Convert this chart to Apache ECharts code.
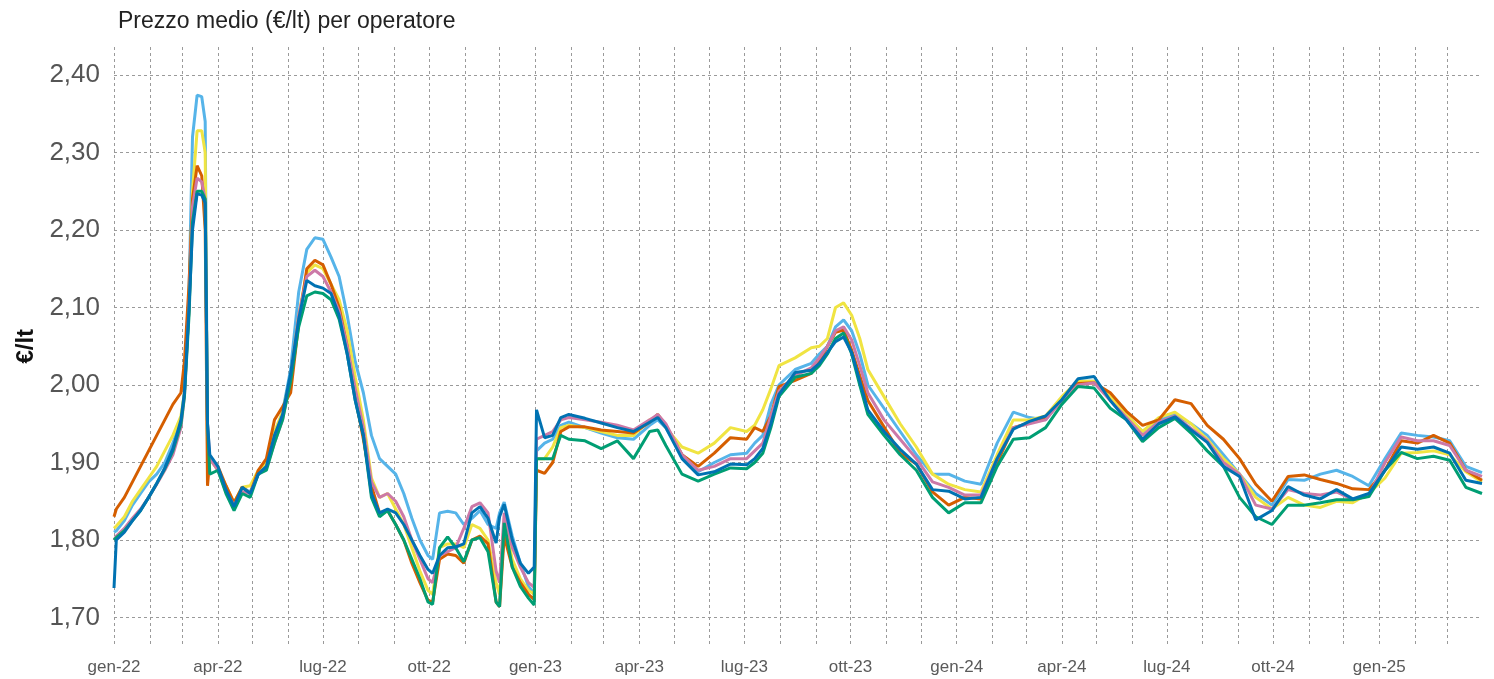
<!DOCTYPE html>
<html>
<head>
<meta charset="utf-8">
<script src="https://cdn.jsdelivr.net/npm/echarts@6/dist/echarts.min.js"></script>
<style>
html,body{margin:0;padding:0;background:#fff;}
#chart{width:1494px;height:679px;}
</style>
</head>
<body>
<div id="chart"></div>
<script>
const titleText = 'Prezzo medio (€/lt) per operatore';
const yAxisName = '€/lt';
const monthNames = ['gen','feb','mar','apr','mag','giu','lug','ago','set','ott','nov','dic'];
const yTicks = [1.70, 1.80, 1.90, 2.00, 2.10, 2.20, 2.30, 2.40];

const dates = [
'2022-01-01','2022-01-03','2022-01-10','2022-01-17','2022-01-24','2022-01-31','2022-02-07','2022-02-14','2022-02-21','2022-02-28',
'2022-03-03','2022-03-07','2022-03-10','2022-03-14','2022-03-18','2022-03-21','2022-03-23','2022-03-25','2022-04-01','2022-04-08',
'2022-04-15','2022-04-22','2022-04-29','2022-05-06','2022-05-13','2022-05-20','2022-05-27','2022-06-03','2022-06-10','2022-06-17',
'2022-06-24','2022-07-01','2022-07-08','2022-07-15','2022-07-22','2022-07-29','2022-08-05','2022-08-12','2022-08-19','2022-08-26',
'2022-09-02','2022-09-09','2022-09-16','2022-09-23','2022-09-30','2022-10-04','2022-10-10','2022-10-17','2022-10-24','2022-10-31',
'2022-11-07','2022-11-14','2022-11-21','2022-11-28','2022-12-01','2022-12-05','2022-12-12','2022-12-19','2022-12-26','2022-12-31',
'2023-01-02','2023-01-09','2023-01-16','2023-01-23','2023-01-30','2023-02-13','2023-02-27','2023-03-13','2023-03-27','2023-04-10',
'2023-04-17','2023-04-24','2023-05-08','2023-05-22','2023-06-05','2023-06-19','2023-07-03','2023-07-10','2023-07-17','2023-07-24',
'2023-07-31','2023-08-14','2023-08-28','2023-09-04','2023-09-11','2023-09-18','2023-09-25','2023-10-02','2023-10-09','2023-10-16',
'2023-10-30','2023-11-13','2023-11-27','2023-12-11','2023-12-25','2024-01-08','2024-01-22','2024-02-05','2024-02-19','2024-03-04',
'2024-03-18','2024-04-01','2024-04-15','2024-04-29','2024-05-13','2024-05-27','2024-06-10','2024-06-24','2024-07-08','2024-07-22',
'2024-08-05','2024-08-19','2024-09-02','2024-09-16','2024-09-30','2024-10-14','2024-10-28','2024-11-11','2024-11-25','2024-12-09',
'2024-12-23','2025-01-06','2025-01-20','2025-02-03','2025-02-17','2025-03-03','2025-03-17','2025-03-31'
];

const lightBlue = [
1.81,1.812,1.825,1.845,1.86,1.875,1.885,1.90,1.925,1.955,
1.99,2.12,2.32,2.374,2.372,2.34,1.93,1.905,1.89,1.865,
1.845,1.868,1.862,1.885,1.895,1.935,1.965,2.02,2.12,2.175,
2.19,2.188,2.165,2.14,2.09,2.03,1.99,1.935,1.905,1.895,
1.885,1.86,1.828,1.80,1.78,1.775,1.835,1.837,1.835,1.82,
1.828,1.838,1.82,1.815,1.835,1.849,1.805,1.77,1.74,1.731,
1.915,1.925,1.93,1.948,1.952,1.945,1.938,1.932,1.93,1.948,
1.955,1.945,1.91,1.888,1.90,1.91,1.912,1.925,1.935,1.975,
2.0,2.02,2.028,2.04,2.05,2.075,2.084,2.07,2.04,2.0,
1.97,1.94,1.91,1.885,1.885,1.876,1.872,1.925,1.965,1.958,
1.955,1.982,2.005,2.005,1.985,1.96,1.94,1.955,1.962,1.95,
1.935,1.91,1.885,1.86,1.845,1.878,1.877,1.885,1.89,1.882,
1.87,1.905,1.938,1.935,1.933,1.928,1.895,1.887
];

const yellow = [
1.815,1.818,1.83,1.85,1.865,1.88,1.895,1.915,1.935,1.96,
1.99,2.10,2.25,2.328,2.328,2.30,1.92,1.905,1.89,1.87,
1.848,1.868,1.87,1.89,1.90,1.94,1.965,2.01,2.09,2.145,
2.155,2.15,2.13,2.11,2.07,2.01,1.955,1.88,1.855,1.86,
1.84,1.82,1.79,1.76,1.735,1.73,1.79,1.795,1.795,1.79,
1.82,1.815,1.80,1.745,1.73,1.825,1.775,1.75,1.735,1.73,
1.905,1.905,1.92,1.945,1.948,1.945,1.94,1.935,1.935,1.955,
1.96,1.945,1.92,1.912,1.925,1.945,1.94,1.948,1.968,1.995,
2.025,2.035,2.048,2.05,2.06,2.10,2.106,2.09,2.06,2.02,
1.985,1.95,1.92,1.885,1.872,1.865,1.862,1.91,1.955,1.955,
1.96,1.985,2.005,2.005,1.985,1.962,1.94,1.958,1.965,1.95,
1.93,1.905,1.885,1.855,1.84,1.855,1.845,1.842,1.85,1.848,
1.86,1.88,1.912,1.913,1.915,1.91,1.888,1.875
];

const orange = [
1.83,1.84,1.855,1.875,1.895,1.915,1.935,1.955,1.975,1.99,
2.03,2.13,2.24,2.283,2.27,2.20,1.87,1.905,1.895,1.87,
1.848,1.868,1.86,1.89,1.905,1.955,1.972,1.99,2.08,2.15,
2.161,2.155,2.13,2.10,2.05,1.985,1.93,1.87,1.835,1.838,
1.82,1.80,1.77,1.745,1.722,1.72,1.775,1.782,1.78,1.77,
1.80,1.805,1.795,1.72,1.714,1.805,1.765,1.745,1.73,1.723,
1.89,1.886,1.90,1.94,1.946,1.946,1.942,1.94,1.938,1.952,
1.962,1.948,1.91,1.895,1.912,1.932,1.93,1.945,1.94,1.96,
1.998,2.006,2.015,2.03,2.05,2.068,2.071,2.045,2.012,1.98,
1.946,1.912,1.898,1.862,1.845,1.855,1.853,1.90,1.945,1.951,
1.958,1.98,2.002,2.003,1.99,1.966,1.948,1.955,1.981,1.976,
1.948,1.93,1.905,1.872,1.85,1.882,1.884,1.878,1.873,1.866,
1.865,1.89,1.928,1.925,1.935,1.925,1.89,1.877
];

const pink = [
1.80,1.805,1.815,1.828,1.84,1.855,1.872,1.89,1.91,1.945,
1.985,2.10,2.23,2.267,2.262,2.24,1.95,1.905,1.89,1.862,
1.845,1.862,1.86,1.885,1.893,1.925,1.955,2.01,2.09,2.14,
2.148,2.14,2.12,2.095,2.05,1.995,1.945,1.875,1.855,1.86,
1.85,1.83,1.80,1.775,1.75,1.745,1.78,1.785,1.79,1.815,
1.843,1.848,1.835,1.76,1.745,1.835,1.79,1.765,1.745,1.739,
1.93,1.935,1.94,1.955,1.958,1.955,1.952,1.948,1.942,1.955,
1.962,1.95,1.91,1.89,1.895,1.905,1.905,1.915,1.925,1.96,
1.992,2.012,2.022,2.035,2.05,2.07,2.075,2.058,2.025,1.99,
1.955,1.93,1.905,1.875,1.868,1.858,1.858,1.905,1.945,1.95,
1.955,1.98,2.0,2.003,1.98,1.958,1.935,1.952,1.96,1.944,
1.928,1.9,1.885,1.845,1.84,1.865,1.86,1.858,1.862,1.852,
1.857,1.9,1.933,1.928,1.928,1.922,1.89,1.882
];

const green = [
1.80,1.803,1.812,1.825,1.838,1.855,1.873,1.892,1.915,1.95,
1.985,2.09,2.21,2.25,2.25,2.24,1.95,1.885,1.89,1.86,
1.838,1.86,1.855,1.885,1.89,1.925,1.955,2.005,2.075,2.115,
2.12,2.118,2.11,2.085,2.04,1.98,1.935,1.855,1.83,1.838,
1.82,1.80,1.775,1.75,1.72,1.717,1.79,1.804,1.79,1.772,
1.80,1.803,1.785,1.72,1.714,1.822,1.765,1.74,1.725,1.716,
1.905,1.905,1.905,1.935,1.93,1.928,1.918,1.928,1.905,1.94,
1.942,1.922,1.885,1.876,1.885,1.893,1.892,1.90,1.912,1.945,
1.985,2.01,2.015,2.025,2.04,2.06,2.067,2.04,2.0,1.962,
1.935,1.91,1.89,1.855,1.835,1.848,1.848,1.895,1.93,1.932,
1.945,1.975,1.998,1.996,1.97,1.955,1.927,1.945,1.957,1.938,
1.915,1.895,1.855,1.83,1.82,1.845,1.845,1.848,1.852,1.852,
1.856,1.89,1.913,1.905,1.908,1.903,1.868,1.86
];

const blue = [
1.738,1.80,1.81,1.825,1.838,1.855,1.873,1.893,1.918,1.955,
1.99,2.10,2.20,2.247,2.245,2.235,1.95,1.91,1.895,1.865,
1.843,1.868,1.86,1.885,1.895,1.935,1.962,2.015,2.085,2.135,
2.128,2.125,2.118,2.09,2.04,1.98,1.935,1.86,1.835,1.84,
1.835,1.82,1.80,1.78,1.762,1.757,1.78,1.79,1.791,1.795,
1.835,1.843,1.828,1.796,1.83,1.846,1.80,1.77,1.757,1.765,
1.968,1.932,1.935,1.958,1.962,1.957,1.951,1.945,1.94,1.952,
1.958,1.945,1.905,1.884,1.888,1.898,1.897,1.905,1.918,1.95,
1.988,2.016,2.019,2.028,2.042,2.056,2.062,2.042,2.005,1.968,
1.94,1.917,1.898,1.865,1.863,1.853,1.855,1.905,1.943,1.953,
1.96,1.981,2.008,2.011,1.98,1.955,1.93,1.95,1.959,1.942,
1.926,1.895,1.882,1.826,1.838,1.869,1.858,1.853,1.865,1.853,
1.86,1.89,1.92,1.917,1.92,1.912,1.877,1.873
];

const seriesList = [
  {name: 'Operatore A', values: lightBlue, color: '#56B4E9'},
  {name: 'Operatore B', values: yellow, color: '#F0E442'},
  {name: 'Operatore C', values: orange, color: '#D55E00'},
  {name: 'Operatore D', values: pink, color: '#CC79A7'},
  {name: 'Operatore E', values: green, color: '#009E73'},
  {name: 'Operatore F', values: blue, color: '#0072B2'}
];

const xMin = '2022-01-01';
const xMax = '2025-03-31';
const DAY = 86400000;
const gridColor = '#9a9a9a';
const FONT = '"Liberation Sans", Arial, sans-serif';

const chart = echarts.init(document.getElementById('chart'), null, {renderer: 'canvas'});

const option = {
  backgroundColor: '#ffffff',
  animation: false,
  title: {
    text: titleText,
    left: 113, top: 5,
    textStyle: {fontFamily: FONT, fontSize: 23, fontWeight: 'normal', color: '#222'}
  },
  grid: [
    {left: 114, right: 12, top: 75, bottom: 61.5, containLabel: false},
    {left: 114, right: 12, top: 47, bottom: 34, containLabel: false}
  ],
  xAxis: [
    {
      type: 'time', gridIndex: 0, min: xMin, max: xMax,
      minInterval: 28 * DAY, maxInterval: 31 * DAY,
      axisLine: {show: false}, axisTick: {show: false}, splitLine: {show: false},
      axisLabel: {
        margin: 41, fontFamily: FONT, fontSize: 17, color: '#5a5a5a',
        showMinLabel: true, showMaxLabel: false, hideOverlap: false,
        formatter: function (val) {
          const d = new Date(val);
          if (d.getDate() !== 1 || d.getMonth() % 3 !== 0) return '';
          return monthNames[d.getMonth()] + '-' + String(d.getFullYear()).slice(2);
        }
      }
    },
    {
      type: 'time', gridIndex: 1, min: xMin, max: xMax,
      minInterval: 28 * DAY, maxInterval: 31 * DAY,
      axisLine: {show: false}, axisTick: {show: false}, axisLabel: {show: false},
      splitLine: {show: true, showMaxLine: false, lineStyle: {color: gridColor, width: 1, type: [3, 3]}}
    }
  ],
  yAxis: [
    {
      type: 'value', gridIndex: 0, min: yTicks[0], max: yTicks[yTicks.length - 1], interval: 0.1,
      name: yAxisName, nameLocation: 'middle', nameGap: 67, nameRotate: 90,
      nameTextStyle: {fontFamily: FONT, fontSize: 24, color: '#111', fontWeight: 'bold'},
      axisLine: {show: false}, axisTick: {show: false},
      axisLabel: {
        margin: 14, fontFamily: FONT, fontSize: 26, color: '#555',
        formatter: function (v) { return v.toFixed(2).replace('.', ','); }
      },
      splitLine: {show: true, lineStyle: {color: gridColor, width: 1, type: [3, 3]}}
    },
    {
      type: 'value', gridIndex: 1, min: 0, max: 1, show: false
    }
  ],
  series: seriesList.map(function (s) {
    return {
      name: s.name, type: 'line', xAxisIndex: 0, yAxisIndex: 0,
      showSymbol: false, symbol: 'none',
      lineStyle: {color: s.color, width: 3},
      itemStyle: {color: s.color},
      data: dates.map(function (d, i) { return [d, s.values[i]]; })
    };
  }).concat([{type: 'line', xAxisIndex: 1, yAxisIndex: 1, data: [], silent: true}])
};

chart.setOption(option);
</script>
</body>
</html>
